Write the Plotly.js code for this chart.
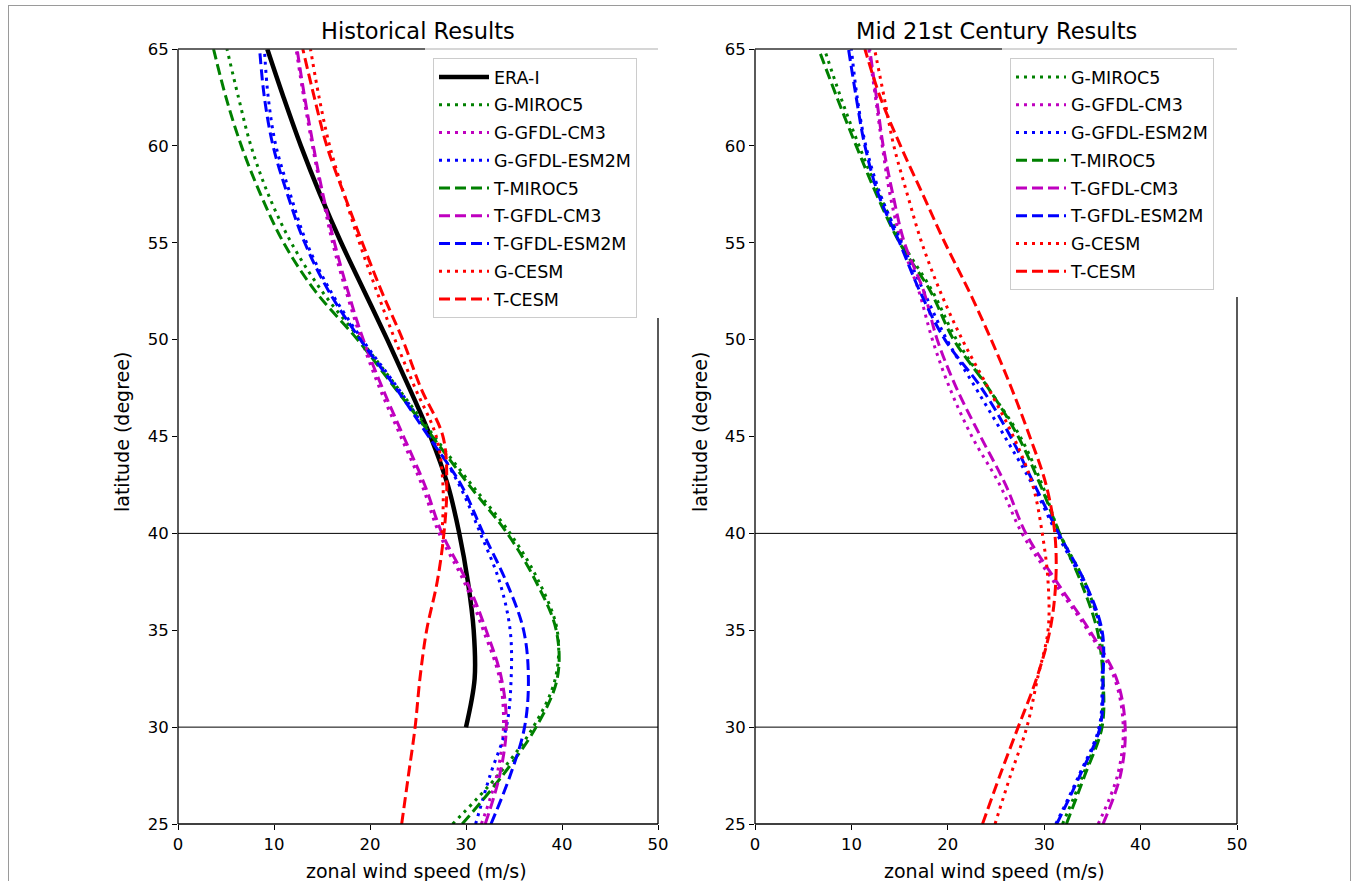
<!DOCTYPE html>
<html><head><meta charset="utf-8">
<script src="https://cdn.plot.ly/plotly-3.0.1.min.js"></script>
<style>
html,body{margin:0;padding:0;background:#fff;overflow:hidden;}
#chart{position:absolute;left:0;top:0;width:1357px;height:881px;}
#frame{position:absolute;left:8px;top:5px;width:1341px;height:900px;border:1px solid #9a9a9a;pointer-events:none;}
</style>
</head><body>
<div id="chart"></div><div id="frame"></div>
<script>
// latitude grid (degrees)
const latitudes = [25, 27.5, 30, 32.5, 35, 37.5, 40, 42.5, 45, 47.5, 50, 52.5, 55, 57.5, 60, 62.5, 65];
const eraLatitudes = [30, 32.5, 35, 37.5, 40, 42.5, 45, 47.5, 50, 52.5, 55, 57.5, 60, 62.5, 65];
const gcesmHistLatitudes = [40, 42.5, 45, 47.5, 50, 52.5, 55, 57.5, 60, 62.5, 65];

// Historical results (zonal wind speed, m/s)
const histERAI        = [30.0, 30.9, 30.8, 30.2, 29.3, 28.1, 26.3, 24.1, 21.8, 19.4, 17.0, 14.8, 12.8, 11.0, 9.3];
const histGMIROC5     = [28.6, 33.3, 37.0, 39.3, 39.5, 37.6, 34.6, 30.6, 26.7, 22.9, 19.0, 15.0, 11.8, 9.4, 7.6, 6.3, 5.1];
const histGGFDLCM3    = [31.6, 33.2, 33.9, 33.5, 31.8, 29.8, 27.2, 25.4, 23.2, 21.0, 19.1, 17.5, 16.1, 15.0, 14.0, 13.1, 12.3];
const histGGFDLESM2M  = [31.0, 32.5, 34.2, 34.7, 34.6, 33.5, 31.5, 29.3, 26.3, 22.9, 19.2, 15.9, 13.4, 11.7, 10.2, 9.4, 9.0];
const histTMIROC5     = [29.6, 33.8, 37.3, 39.5, 39.4, 37.3, 34.3, 30.3, 26.5, 22.6, 18.7, 14.3, 11.0, 8.6, 6.6, 5.0, 3.7];
const histTGFDLCM3    = [32.0, 33.5, 34.2, 33.7, 32.1, 30.1, 27.5, 25.7, 23.5, 21.3, 19.3, 17.7, 16.3, 15.1, 14.1, 13.2, 12.4];
const histTGFDLESM2M  = [32.6, 34.6, 36.1, 36.5, 36.0, 34.2, 31.8, 29.5, 26.1, 22.7, 19.0, 15.7, 13.2, 11.4, 9.9, 9.0, 8.5];
const histGCESM       = [27.5, 27.6, 26.9, 24.7, 22.6, 20.7, 18.9, 17.3, 15.8, 14.7, 13.8];
const histTCESM       = [23.3, 24.0, 24.7, 25.2, 25.9, 27.0, 27.7, 28.0, 27.6, 25.3, 23.4, 21.2, 19.2, 17.3, 15.5, 14.2, 13.0];

// Mid 21st century results (zonal wind speed, m/s)
const futGMIROC5      = [31.9, 34.0, 35.8, 36.1, 35.8, 34.2, 31.6, 29.8, 27.5, 24.2, 20.9, 18.4, 15.3, 12.9, 10.8, 8.9, 7.2];
const futGGFDLCM3     = [35.6, 37.6, 38.2, 37.3, 34.5, 31.0, 27.7, 25.4, 22.5, 20.2, 18.4, 17.0, 15.2, 14.0, 13.2, 12.5, 11.8];
const futGGFDLESM2M   = [31.2, 33.6, 35.7, 36.0, 35.9, 34.0, 31.3, 28.8, 25.9, 22.9, 19.9, 17.5, 15.2, 13.0, 11.5, 10.6, 10.0];
const futTMIROC5      = [32.3, 34.2, 36.0, 36.1, 35.5, 33.8, 31.6, 29.6, 27.3, 24.2, 20.6, 18.2, 15.0, 12.6, 10.5, 8.5, 6.6];
const futTGFDLCM3     = [36.1, 37.9, 38.4, 37.5, 34.7, 31.3, 28.1, 26.0, 23.4, 20.9, 18.9, 17.5, 15.5, 14.3, 13.3, 12.6, 11.9];
const futTGFDLESM2M   = [31.3, 33.7, 35.8, 36.1, 36.0, 34.2, 31.5, 29.0, 26.5, 23.5, 19.7, 17.1, 15.0, 12.8, 11.4, 10.5, 9.7];
const futGCESM        = [24.9, 26.5, 28.2, 29.3, 30.4, 30.4, 29.8, 28.8, 26.8, 24.2, 21.5, 19.2, 17.3, 15.8, 14.4, 13.4, 12.4];
const futTCESM        = [23.6, 25.4, 27.3, 29.2, 30.6, 31.2, 31.1, 30.2, 28.5, 26.6, 24.5, 22.2, 19.7, 17.4, 15.1, 13.0, 11.4];

const xTicks = [0, 10, 20, 30, 40, 50];
const yTicks = [25, 30, 35, 40, 45, 50, 55, 60, 65];
const refLines = [30, 40];

const GREEN = '#008000', MAG = '#bf00bf', BLUE = '#0000ff', RED = '#ff0000';
const DOT = '3px,5px', DASH = '11px,5px';
const FONT = 'DejaVu Sans, Liberation Sans, sans-serif';

function tr(name, x, y, color, dash, width, xa, ya, leg, grp) {
  return {
    type: 'scatter', mode: 'lines', name: name, x: x, y: y,
    xaxis: xa, yaxis: ya, legend: leg, legendgroup: grp,
    line: {color: color, dash: dash, width: width, shape: 'spline', smoothing: 1},
    hoverinfo: 'skip'
  };
}

const data = [
  tr('ERA-I', histERAI, eraLatitudes, '#000000', 'solid', 4.5, 'x', 'y', 'legend', 'h0'),
  tr('G-MIROC5', histGMIROC5, latitudes, GREEN, DOT, 3, 'x', 'y', 'legend', 'h1'),
  tr('G-GFDL-CM3', histGGFDLCM3, latitudes, MAG, DOT, 3, 'x', 'y', 'legend', 'h2'),
  tr('G-GFDL-ESM2M', histGGFDLESM2M, latitudes, BLUE, DOT, 3, 'x', 'y', 'legend', 'h3'),
  tr('T-MIROC5', histTMIROC5, latitudes, GREEN, DASH, 3, 'x', 'y', 'legend', 'h4'),
  tr('T-GFDL-CM3', histTGFDLCM3, latitudes, MAG, DASH, 3, 'x', 'y', 'legend', 'h5'),
  tr('T-GFDL-ESM2M', histTGFDLESM2M, latitudes, BLUE, DASH, 3, 'x', 'y', 'legend', 'h6'),
  tr('G-CESM', histGCESM, gcesmHistLatitudes, RED, DOT, 3, 'x', 'y', 'legend', 'h7'),
  tr('T-CESM', histTCESM, latitudes, RED, DASH, 3, 'x', 'y', 'legend', 'h8'),

  tr('G-MIROC5', futGMIROC5, latitudes, GREEN, DOT, 3, 'x2', 'y2', 'legend2', 'f1'),
  tr('G-GFDL-CM3', futGGFDLCM3, latitudes, MAG, DOT, 3, 'x2', 'y2', 'legend2', 'f2'),
  tr('G-GFDL-ESM2M', futGGFDLESM2M, latitudes, BLUE, DOT, 3, 'x2', 'y2', 'legend2', 'f3'),
  tr('T-MIROC5', futTMIROC5, latitudes, GREEN, DASH, 3, 'x2', 'y2', 'legend2', 'f4'),
  tr('T-GFDL-CM3', futTGFDLCM3, latitudes, MAG, DASH, 3, 'x2', 'y2', 'legend2', 'f5'),
  tr('T-GFDL-ESM2M', futTGFDLESM2M, latitudes, BLUE, DASH, 3, 'x2', 'y2', 'legend2', 'f6'),
  tr('G-CESM', futGCESM, latitudes, RED, DOT, 3, 'x2', 'y2', 'legend2', 'f7'),
  tr('T-CESM', futTCESM, latitudes, RED, DASH, 3, 'x2', 'y2', 'legend2', 'f8')
];

const W = 1357, H = 881;
const yDom = [1 - 824 / H, 1 - 49 / H];
function xa(dom, anchor) {
  return {domain: dom, range: [0, 50], anchor: anchor, tickvals: xTicks, ticktext: xTicks.map(String),
    ticks: 'outside', ticklen: 5, tickwidth: 1, tickcolor: '#000', showline: false, showgrid: false,
    zeroline: false, tickfont: {family: FONT, size: 16.5, color: '#000'}, fixedrange: true};
}
function ya(anchor) {
  return {domain: yDom, range: [25, 65], anchor: anchor, tickvals: yTicks, ticktext: yTicks.map(String),
    ticks: 'outside', ticklen: 5, tickwidth: 1, tickcolor: '#000', showline: false, showgrid: false,
    zeroline: false, tickfont: {family: FONT, size: 16.5, color: '#000'}, fixedrange: true};
}

function spine(xref, yref, x0, y0, x1, y1, color) {
  return {type: 'line', xref: xref, yref: yref, x0: x0, y0: y0, x1: x1, y1: y1,
    line: {color: color || '#000', width: 1.3}, layer: 'above'};
}
const shapes = [];
// left panel spines
shapes.push(spine('x domain', 'y domain', 0, 0, 0, 1));
shapes.push(spine('x domain', 'y domain', 0, 0, 1, 0));
shapes.push(spine('x domain', 'y domain', 0, 1, (425 - 178) / 480, 1, '#333'));
shapes.push(spine('x domain', 'y domain', (425 - 178) / 480, 1, 1, 1, '#c8c8c8'));
shapes.push(spine('x domain', 'y domain', 1, 0, 1, (824 - 318) / 775));
// right panel spines
shapes.push(spine('x2 domain', 'y2 domain', 0, 0, 0, 1));
shapes.push(spine('x2 domain', 'y2 domain', 0, 0, 1, 0));
shapes.push(spine('x2 domain', 'y2 domain', 0, 1, (1002 - 755) / 482, 1, '#333'));
shapes.push(spine('x2 domain', 'y2 domain', (1002 - 755) / 482, 1, 1, 1, '#c8c8c8'));
shapes.push(spine('x2 domain', 'y2 domain', 1, 0, 1, (824 - 297) / 775));
// reference latitude lines
refLines.forEach(v => {
  shapes.push({type: 'line', xref: 'x domain', yref: 'y', x0: 0, x1: 1, y0: v, y1: v, line: {color: '#000', width: 1}, layer: 'below'});
  shapes.push({type: 'line', xref: 'x2 domain', yref: 'y2', x0: 0, x1: 1, y0: v, y1: v, line: {color: '#000', width: 1}, layer: 'below'});
});

function ann(text, x, y, size, angle) {
  return {text: text, xref: 'paper', yref: 'paper', x: x / W, y: 1 - y / H, showarrow: false,
    xanchor: 'center', yanchor: 'middle', textangle: angle || 0,
    font: {family: FONT, size: size, color: '#000'}};
}
const annotations = [
  ann('Historical Results', 418, 31, 22.5),
  ann('Mid 21st Century Results', 996, 31, 22.5),
  ann('zonal wind speed (m/s)', 416, 871, 19),
  ann('zonal wind speed (m/s)', 995, 871, 19),
  ann('latitude (degree)', 122, 432, 19, -90),
  ann('latitude (degree)', 700, 432, 19, -90)
];

function leg(x, y) {
  return {x: x / W, y: 1 - y / H, xanchor: 'left', yanchor: 'top', bgcolor: '#fff',
    bordercolor: '#cccccc', borderwidth: 1, font: {family: FONT, size: 17.5, color: '#000'},
    tracegroupgap: 2, traceorder: 'grouped', itemwidth: 50};
}

const layout = {
  width: W, height: H, margin: {l: 0, r: 0, t: 0, b: 0},
  paper_bgcolor: '#fff', plot_bgcolor: '#fff', showlegend: true,
  xaxis: xa([178 / W, 658 / W], 'y'), yaxis: ya('x'),
  xaxis2: xa([755 / W, 1237 / W], 'y2'), yaxis2: ya('x2'),
  legend: leg(433, 58), legend2: leg(1010, 58),
  shapes: shapes, annotations: annotations, font: {family: FONT}
};

Plotly.newPlot('chart', data, layout, {staticPlot: true, displayModeBar: false});
</script>
</body></html>
